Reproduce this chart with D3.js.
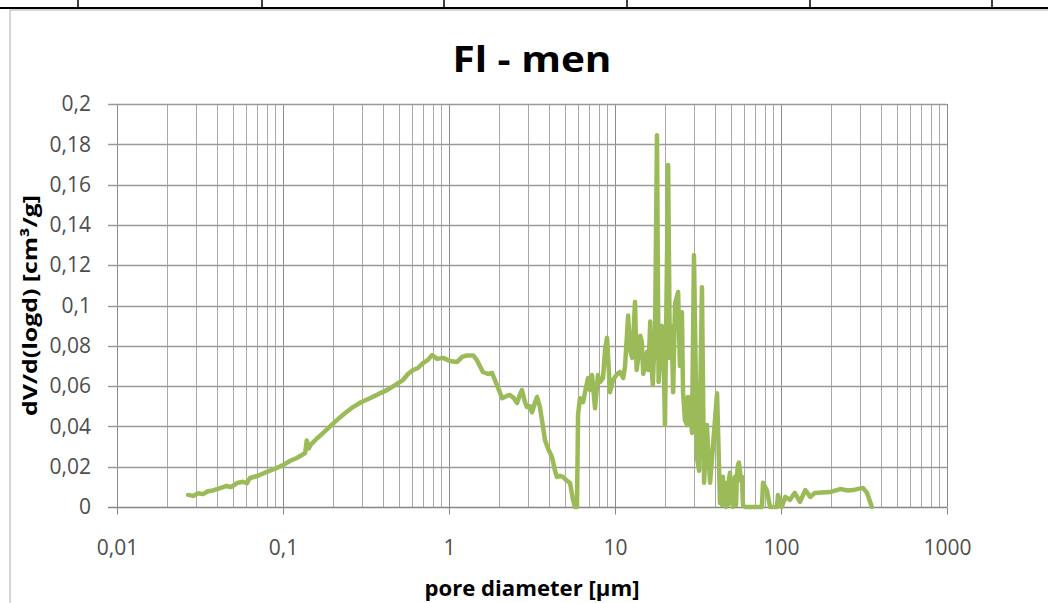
<!DOCTYPE html>
<html>
<head>
<meta charset="utf-8">
<script src="https://cdn.jsdelivr.net/npm/d3@7"></script>
<style>
  html, body { margin: 0; padding: 0; background: #fff; }
  svg { display: block; }
  text { font-family: "Open Sans", Lato, sans-serif; }
</style>
</head>
<body>
<div id="main"></div>
<script>
// pore diameter [µm]
const diameter = [
  0.0268, 0.0287, 0.0308, 0.033, 0.0353, 0.0379, 0.0417, 0.0454, 0.0486, 0.0528,
  0.0574, 0.0607, 0.0633, 0.0707, 0.0801, 0.0895, 0.1, 0.110, 0.121, 0.130,
  0.136, 0.139, 0.143, 0.147, 0.160, 0.174, 0.192, 0.211, 0.236, 0.264,
  0.295, 0.334, 0.374, 0.423, 0.473, 0.528, 0.566, 0.607, 0.651, 0.697,
  0.747, 0.790, 0.847, 0.920, 1.01, 1.12, 1.20, 1.28, 1.40, 1.47,
  1.60, 1.72, 1.82, 1.89, 2.00, 2.09, 2.21, 2.33, 2.46, 2.57,
  2.68, 2.75, 2.87, 2.95, 3.08, 3.16, 3.30, 3.39, 3.53, 3.68,
  3.79, 4.00, 4.17, 4.35, 4.47, 4.66, 4.86, 5.14, 5.36, 5.59,
  5.74, 5.90, 5.99, 6.15, 6.42, 6.60, 6.88, 7.07, 7.27, 7.58,
  7.90, 8.12, 8.47, 8.71, 8.95, 9.33, 9.73, 10.3, 10.7, 11.2,
  11.5, 12.0, 12.3, 12.7, 13.2, 13.5, 13.8, 14.2, 14.5, 14.8,
  15.2, 15.6, 15.9, 16.3, 16.6, 16.9, 17.1, 17.4, 17.9, 18.3,
  18.7, 19.1, 19.5, 20.0, 20.9, 21.4, 21.9, 22.4, 23.0, 24.0,
  24.6, 25.3, 25.7, 26.4, 27.2, 27.5, 28.3, 29.1, 29.9, 31.2,
  32.1, 33.4, 34.4, 35.8, 36.3, 37.4, 38.9, 41.2, 42.9, 43.5,
  44.1, 44.7, 45.4, 46.0, 46.6, 47.3, 47.9, 48.6, 49.3, 50.0,
  50.7, 51.4, 52.1, 52.8, 53.6, 54.3, 55.1, 55.8, 56.6, 57.4,
  58.2, 59.0, 60.7, 76.8, 77.9, 80.1, 82.4, 85.9, 94.6, 95.9,
  98.6, 101, 106, 113, 121, 130, 140, 150, 160, 177,
  197, 227, 253, 272, 291, 312, 330, 353
];

// dV/d(logd) [cm³/g]
const dvdlogd = [
  0.006, 0.0055, 0.0068, 0.0064, 0.0078, 0.0082, 0.0094, 0.0104, 0.0099, 0.0119,
  0.0125, 0.0118, 0.0144, 0.0155, 0.0174, 0.019, 0.0208, 0.0228, 0.0243, 0.0258,
  0.0268, 0.033, 0.029, 0.031, 0.034, 0.0367, 0.040, 0.0431, 0.0465, 0.0496,
  0.052, 0.054, 0.056, 0.058, 0.0605, 0.063, 0.066, 0.068, 0.069, 0.0714,
  0.073, 0.0754, 0.0735, 0.074, 0.0725, 0.072, 0.0745, 0.0752, 0.0752, 0.073,
  0.067, 0.066, 0.0665, 0.063, 0.058, 0.054, 0.055, 0.0556, 0.054, 0.0516,
  0.056, 0.058, 0.052, 0.0496, 0.050, 0.047, 0.052, 0.0546, 0.0496, 0.040,
  0.033, 0.028, 0.0248, 0.018, 0.0149, 0.0155, 0.0149, 0.013, 0.0119, 0.0035,
  0, 0, 0.0456, 0.054, 0.052, 0.057, 0.064, 0.058, 0.0655, 0.049,
  0.0655, 0.062, 0.064, 0.078, 0.084, 0.057, 0.063, 0.066, 0.067, 0.064,
  0.070, 0.095, 0.078, 0.074, 0.1017, 0.068, 0.074, 0.085, 0.082, 0.066,
  0.070, 0.077, 0.068, 0.092, 0.070, 0.0605, 0.072, 0.080, 0.1845, 0.062,
  0.074, 0.090, 0.087, 0.0407, 0.1697, 0.074, 0.090, 0.057, 0.101, 0.1067,
  0.070, 0.0967, 0.057, 0.043, 0.0407, 0.0546, 0.054, 0.0367, 0.125, 0.0243,
  0.018, 0.109, 0.012, 0.0407, 0.03, 0.012, 0.03, 0.0565, 0.002, 0.013,
  0.001, 0.015, 0.002, 0.012, 0, 0.012, 0.001, 0.014, 0.017, 0.002,
  0.013, 0, 0.012, 0.015, 0.001, 0.016, 0.021, 0.022, 0.018, 0.013,
  0.015, 0.001, 0, 0, 0.012, 0.010, 0.008, 0, 0, 0.006,
  0.003, 0, 0.005, 0.0035, 0.007, 0.0025, 0.0084, 0.005, 0.007, 0.0072,
  0.0074, 0.0089, 0.0082, 0.0084, 0.009, 0.0094, 0.007, 0
];

const xTickValues = [0.01, 0.1, 1, 10, 100, 1000];
const xTickLabels = ["0,01", "0,1", "1", "10", "100", "1000"];
const yTickValues = [0, 0.02, 0.04, 0.06, 0.08, 0.1, 0.12, 0.14, 0.16, 0.18, 0.2];
const yTickLabels = ["0", "0,02", "0,04", "0,06", "0,08", "0,1", "0,12", "0,14", "0,16", "0,18", "0,2"];

const chartTitle = "Fl - men";
const xTitle = "pore diameter [µm]";
const yTitle = "dV/d(logd) [cm³/g]";

const width = 1048, height = 603;
const plot = { left: 117, right: 947, top: 104, bottom: 507 };
const lineColor = "#9bbb59";
const gridColor = "#a9a9a9";

const data = diameter.map((d, i) => ({ d: d, v: dvdlogd[i] }));

const x = d3.scaleLog().domain([0.01, 1000]).range([plot.left, plot.right]);
const y = d3.scaleLinear().domain([0, 0.2]).range([plot.bottom, plot.top]);

const svg = d3.select('#main').append('svg')
  .attr('width', width)
  .attr('height', height)
  .attr('viewBox', `0 0 ${width} ${height}`);

svg.append('rect').attr('width', width).attr('height', height).attr('fill', '#fff');

// table rule above the chart and chart frame
svg.append('rect')
  .attr('x', 10).attr('y', 10)
  .attr('width', width).attr('height', height)
  .attr('fill', 'none')
  .attr('stroke', '#c8c8c8')
  .attr('stroke-width', 1.5);
svg.append('line')
  .attr('x1', 0).attr('x2', width).attr('y1', 8).attr('y2', 8)
  .attr('stroke', '#000').attr('stroke-width', 2);
[78, 262, 444, 627, 810, 992].forEach(cx => {
  svg.append('line')
    .attr('x1', cx).attr('x2', cx).attr('y1', 0).attr('y2', 8)
    .attr('stroke', '#000').attr('stroke-width', 1.5);
});

// vertical grid, every 1..9 per decade
const minorX = [];
xTickValues.slice(0, -1).forEach(dec => {
  for (let m = 1; m <= 9; m++) minorX.push(dec * m);
});
minorX.push(1000);

svg.append('g').attr('id', 'x-grid')
  .selectAll('line')
  .data(minorX)
  .enter()
  .append('line')
  .attr('x1', d => Math.round(x(d)) + 0.5)
  .attr('x2', d => Math.round(x(d)) + 0.5)
  .attr('y1', plot.top)
  .attr('y2', plot.bottom)
  .attr('stroke', d => xTickValues.includes(d) ? '#8c8c8c' : gridColor)
  .attr('stroke-width', 1);

svg.append('g').attr('id', 'y-grid')
  .selectAll('line')
  .data(yTickValues.slice(1))
  .enter()
  .append('line')
  .attr('x1', plot.left - 9)
  .attr('x2', plot.right)
  .attr('y1', d => Math.round(y(d)) + 0.5)
  .attr('y2', d => Math.round(y(d)) + 0.5)
  .attr('stroke', '#9a9a9a')
  .attr('stroke-width', 1.5);

// axes
const xAxis = svg.append('g')
  .attr('id', 'x-axis')
  .attr('transform', `translate(0, ${Math.round(y(0)) + 0.5})`)
  .call(d3.axisBottom(x)
    .tickValues(xTickValues)
    .tickFormat((d, i) => xTickLabels[i])
    .tickSize(7)
    .tickPadding(26));
xAxis.select('.domain').attr('stroke', '#868686').attr('stroke-width', 1.5).attr('d', `M${plot.left - 9},0H${plot.right}`);
xAxis.selectAll('.tick line').attr('stroke', '#868686');
xAxis.selectAll('.tick text')
  .attr('fill', '#4d4d4d')
  .style('font-size', '21px');

const yAxis = svg.append('g')
  .attr('id', 'y-axis')
  .attr('transform', `translate(${plot.left}, 0)`)
  .call(d3.axisLeft(y)
    .tickValues(yTickValues)
    .tickFormat((d, i) => yTickLabels[i])
    .tickSize(0)
    .tickPadding(26));
yAxis.select('.domain').remove();
yAxis.selectAll('.tick text')
  .attr('fill', '#4d4d4d')
  .style('font-size', '21px');

// data line
const line = d3.line()
  .x(p => x(p.d))
  .y(p => y(p.v));

svg.append('path')
  .datum(data)
  .attr('d', line)
  .attr('fill', 'none')
  .attr('stroke', lineColor)
  .attr('stroke-width', 4.5)
  .attr('stroke-linejoin', 'round')
  .attr('stroke-linecap', 'round');

// titles
svg.append('text')
  .attr('id', 'title')
  .attr('x', (plot.left + plot.right) / 2)
  .attr('y', 72)
  .attr('text-anchor', 'middle')
  .attr('textLength', 159)
  .attr('lengthAdjust', 'spacingAndGlyphs')
  .style('font-size', '35px')
  .style('font-weight', 'bold')
  .text(chartTitle);

svg.append('text')
  .attr('x', (plot.left + plot.right) / 2)
  .attr('y', 596)
  .attr('text-anchor', 'middle')
  .attr('textLength', 215)
  .attr('lengthAdjust', 'spacingAndGlyphs')
  .style('font-size', '21px')
  .style('font-weight', 'bold')
  .text(xTitle);

svg.append('text')
  .attr('transform', `translate(37, ${(plot.top + plot.bottom) / 2}) rotate(-90)`)
  .attr('text-anchor', 'middle')
  .attr('textLength', 221)
  .attr('lengthAdjust', 'spacingAndGlyphs')
  .style('font-size', '20px')
  .style('font-weight', 'bold')
  .text(yTitle);
</script>
</body>
</html>
